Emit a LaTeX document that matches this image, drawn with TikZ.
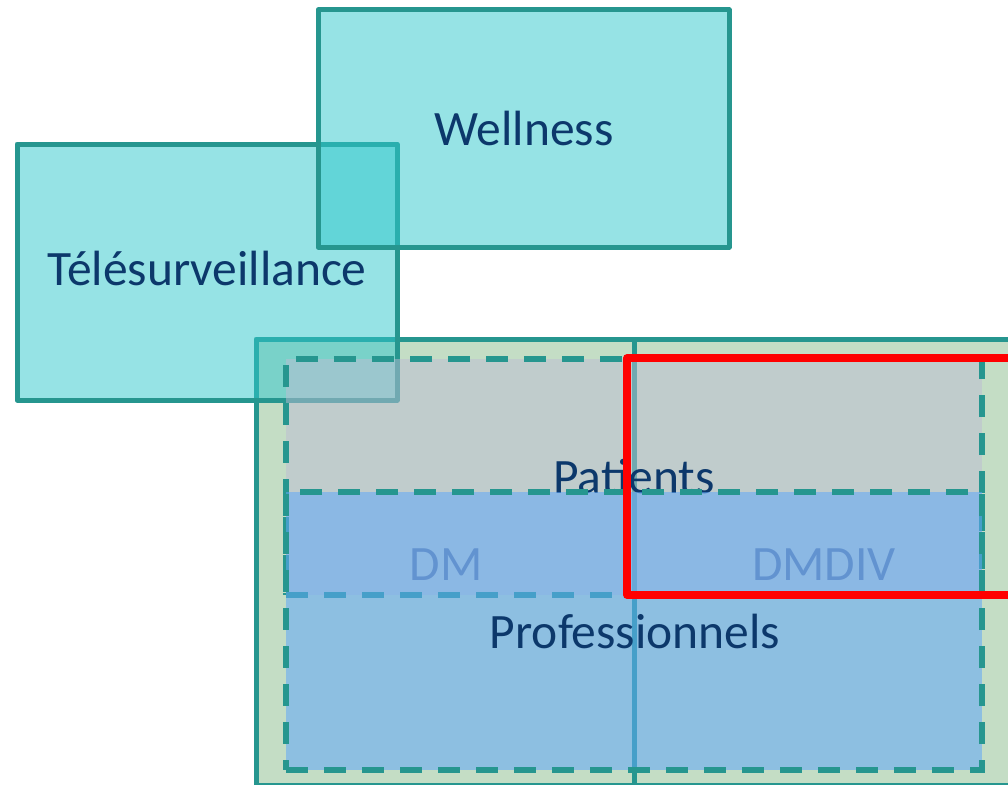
\documentclass[tikz,border=0pt]{standalone}
\usepackage{fontspec}
\setmainfont{Carlito}
\definecolor{tealB}{HTML}{26968F}
\definecolor{greenF}{HTML}{C4DDC5}
\definecolor{cyanF}{HTML}{2FC9CD}
\definecolor{greyF}{HTML}{BDBDD4}
\definecolor{blueF}{HTML}{61A8F9}
\definecolor{navyT}{HTML}{0C386B}
\definecolor{redB}{HTML}{FF0000}
\begin{document}
\begin{tikzpicture}[x=1pt,y=-1pt,
  box/.style={rectangle, draw=tealB, line width=5pt, line join=round, inner sep=0pt, outer sep=0pt},
  greenbox/.style={box, fill=greenF},
  cyanbox/.style={box, fill=cyanF, fill opacity=0.5},
  dashbox/.style={rectangle, draw=tealB, line width=6pt, dash pattern=on 22pt off 16pt, inner sep=0pt, outer sep=0pt},
  greybox/.style={dashbox, fill=greyF, fill opacity=0.5},
  bluebox/.style={dashbox, fill=blueF, fill opacity=0.55},
  redbox/.style={rectangle, draw=redB, line width=7.5pt, line join=round, inner sep=0pt, outer sep=0pt},
  lbl/.style={text=navyT, font=\fontsize{49.5}{59}\selectfont, anchor=base, inner sep=0pt}]
\useasboundingbox (0,0) rectangle (1008,784);
\clip (0,0) rectangle (1008,784);
\fill[white] (0,0) rectangle (1008,784);
% green boxes
\node[greenbox, minimum width=378pt, minimum height=446pt] (gl) at (445,562) {};
\node[greenbox, minimum width=380pt, minimum height=446pt] (gr) at (824,562) {};
\node[lbl] (dm) at (446,580) {DM};
\node[lbl] (dmdiv) at (824,580) {DMDIV};
% Telesurveillance
\node[cyanbox, minimum width=380pt, minimum height=256pt] (tele) at (207,272) {};
\node[lbl] (teletxt) at (207,285) {Télésurveillance};
% Wellness
\node[cyanbox, minimum width=411pt, minimum height=237pt] (well) at (523.5,128.5) {};
\node[lbl] (welltxt) at (524,145) {Wellness};
% Patients
\node[greybox, minimum width=696pt, minimum height=236pt] (pat) at (634,477) {};
\node[lbl] (pattxt) at (634,493) {Patients};
% Professionnels
\node[bluebox, minimum width=696pt, minimum height=278pt] (pro) at (634,631) {};
\node[lbl] (protxt) at (635,648) {Professionnels};
% red frame
\node[redbox, minimum width=403pt, minimum height=237pt] (red) at (828.5,476.5) {};
\end{tikzpicture}
\end{document}
